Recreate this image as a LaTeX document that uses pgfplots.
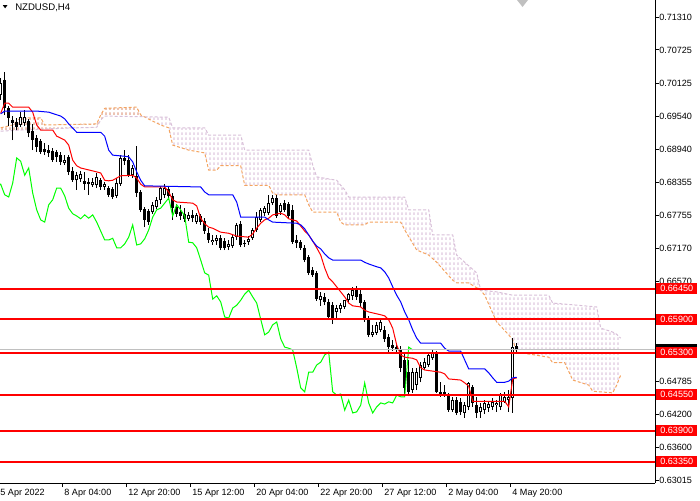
\documentclass[border=0pt]{standalone}
\usepackage{fontspec}
\setmainfont{Liberation Sans}
\usepackage{pgfplots}
\usepackage{pgfplotstable}
\pgfplotsset{compat=1.18}
\usepgfplotslibrary{fillbetween}
\usetikzlibrary{patterns}
\definecolor{sandy}{HTML}{F4A460}
\definecolor{thist}{HTML}{D8BFD8}
\definecolor{hatchthist}{HTML}{C49AC4}
\definecolor{hatchsandy}{HTML}{F09A50}
\definecolor{mtgreen}{HTML}{00FF00}
\definecolor{mtred}{HTML}{FF0000}
\definecolor{mtblue}{HTML}{0000FF}
\definecolor{bidgrey}{HTML}{C0C0C0}
\newcommand\lab{\fontsize{6.8pt}{8pt}\selectfont}
\pgfdeclarepatternformonly{vdash}{\pgfqpoint{0pt}{0pt}}{\pgfqpoint{3pt}{3.75pt}}{\pgfqpoint{3pt}{3.75pt}}{\pgfsetlinewidth{0.75pt}\pgfpathmoveto{\pgfqpoint{1.875pt}{0pt}}\pgfpathlineto{\pgfqpoint{1.875pt}{2.25pt}}\pgfusepath{stroke}}

\pgfplotstableread{
k O H L C
0 0.6992 0.7022 0.6983 0.7013
1 0.7019 0.7033 0.6956 0.6968
2 0.6968 0.6972 0.6936 0.6951
3 0.6947 0.6954 0.6911 0.6942
4 0.6943 0.6951 0.6929 0.6934
5 0.6938 0.6961 0.6934 0.6952
6 0.6942 0.6965 0.6936 0.6952
7 0.6945 0.6949 0.6916 0.6924
8 0.6927 0.6940 0.6893 0.6911
9 0.6915 0.6920 0.6890 0.6899
10 0.6909 0.6913 0.6886 0.6890
11 0.6895 0.6906 0.6884 0.6890
12 0.6893 0.6902 0.6881 0.6888
13 0.6891 0.6897 0.6872 0.6875
14 0.6890 0.6893 0.6872 0.6881
15 0.6884 0.6890 0.6866 0.6872
16 0.6870 0.6884 0.6866 0.6875
17 0.6881 0.6884 0.6848 0.6854
18 0.6856 0.6863 0.6836 0.6839
19 0.6839 0.6854 0.6822 0.6848
20 0.6841 0.6856 0.6836 0.6850
21 0.6838 0.6854 0.6822 0.6832
22 0.6836 0.6843 0.6813 0.6832
23 0.6830 0.6843 0.6827 0.6836
24 0.6830 0.6852 0.6825 0.6845
25 0.6839 0.6843 0.6822 0.6827
26 0.6827 0.6836 0.6822 0.6832
27 0.6825 0.6829 0.6809 0.6813
28 0.6823 0.6827 0.6805 0.6809
29 0.6811 0.6843 0.6807 0.6834
30 0.6832 0.6884 0.6829 0.6879
31 0.6879 0.6893 0.6866 0.6873
32 0.6875 0.6884 0.6845 0.6848
33 0.6848 0.6866 0.6843 0.6861
34 0.6847 0.6900 0.6809 0.6816
35 0.6818 0.6822 0.6782 0.6786
36 0.6787 0.6791 0.6755 0.6768
37 0.6784 0.6787 0.6759 0.6764
38 0.6782 0.6800 0.6779 0.6795
39 0.6791 0.6809 0.6787 0.6804
40 0.6804 0.6829 0.6796 0.6825
41 0.6813 0.6832 0.6807 0.6825
42 0.6823 0.6829 0.6804 0.6811
43 0.6811 0.6816 0.6768 0.6789
44 0.6791 0.6796 0.6773 0.6779
45 0.6782 0.6795 0.6768 0.6775
46 0.6779 0.6789 0.6764 0.6770
47 0.6770 0.6782 0.6766 0.6777
48 0.6777 0.6786 0.6764 0.6771
49 0.6764 0.6780 0.6761 0.6777
50 0.6775 0.6779 0.6759 0.6764
51 0.6766 0.6771 0.6743 0.6748
52 0.6744 0.6753 0.6727 0.6732
53 0.6728 0.6741 0.6723 0.6732
54 0.6730 0.6741 0.6723 0.6735
55 0.6735 0.6741 0.6714 0.6718
56 0.6730 0.6735 0.6714 0.6718
57 0.6719 0.6732 0.6714 0.6725
58 0.6721 0.6741 0.6718 0.6737
59 0.6737 0.6762 0.6732 0.6759
60 0.6761 0.6766 0.6719 0.6723
61 0.6727 0.6732 0.6719 0.6725
62 0.6728 0.6739 0.6723 0.6734
63 0.6735 0.6753 0.6732 0.6750
64 0.6750 0.6782 0.6746 0.6773
65 0.6768 0.6789 0.6764 0.6786
66 0.6780 0.6793 0.6775 0.6789
67 0.6780 0.6813 0.6777 0.6798
68 0.6798 0.6813 0.6795 0.6807
69 0.6807 0.6813 0.6771 0.6775
70 0.6782 0.6798 0.6777 0.6795
71 0.6798 0.6804 0.6782 0.6786
72 0.6796 0.6800 0.6771 0.6775
73 0.6786 0.6795 0.6725 0.6728
74 0.6732 0.6741 0.6718 0.6727
75 0.6728 0.6732 0.6714 0.6718
76 0.6718 0.6723 0.6692 0.6696
77 0.6701 0.6705 0.6669 0.6673
78 0.6678 0.6684 0.6666 0.6669
79 0.6673 0.6676 0.6623 0.6626
80 0.6624 0.6639 0.6614 0.6632
81 0.6630 0.6637 0.6615 0.6621
82 0.6621 0.6626 0.6589 0.6594
83 0.6615 0.6621 0.6581 0.6592
84 0.6603 0.6615 0.6592 0.6610
85 0.6608 0.6619 0.6601 0.6615
86 0.6612 0.6624 0.6608 0.6624
87 0.6624 0.6637 0.6621 0.6635
88 0.6632 0.6648 0.6624 0.6642
89 0.6642 0.6649 0.6624 0.6630
90 0.6635 0.6644 0.6612 0.6619
91 0.6621 0.6624 0.6585 0.6590
92 0.6589 0.6596 0.6558 0.6562
93 0.6562 0.6580 0.6558 0.6567
94 0.6565 0.6585 0.6562 0.6580
95 0.6571 0.6592 0.6567 0.6585
96 0.6571 0.6578 0.6549 0.6555
97 0.6558 0.6563 0.6529 0.6540
98 0.6544 0.6553 0.6533 0.6538
99 0.6540 0.6547 0.6529 0.6535
100 0.6535 0.6542 0.6495 0.6503
101 0.6517 0.6529 0.6454 0.6467
102 0.6495 0.6517 0.6452 0.6460
103 0.6463 0.6503 0.6458 0.6495
104 0.6472 0.6503 0.6463 0.6495
105 0.6485 0.6513 0.6477 0.6508
106 0.6503 0.6520 0.6499 0.6513
107 0.6508 0.6531 0.6504 0.6526
108 0.6520 0.6537 0.6517 0.6531
109 0.6529 0.6533 0.6458 0.6460
110 0.6460 0.6477 0.6451 0.6454
111 0.6460 0.6472 0.6451 0.6456
112 0.6454 0.6458 0.6424 0.6427
113 0.6427 0.6451 0.6424 0.6445
114 0.6445 0.6451 0.6418 0.6422
115 0.6442 0.6449 0.6418 0.6424
116 0.6422 0.6442 0.6413 0.6436
117 0.6433 0.6477 0.6427 0.6476
118 0.6468 0.6472 0.6433 0.6440
119 0.6436 0.6451 0.6413 0.6422
120 0.6424 0.6440 0.6413 0.6433
121 0.6427 0.6445 0.6420 0.6440
122 0.6431 0.6442 0.6424 0.6438
123 0.6433 0.6449 0.6427 0.6442
124 0.6436 0.6445 0.6424 0.6440
125 0.6433 0.6458 0.6427 0.6454
126 0.6442 0.6460 0.6440 0.6451
127 0.6445 0.6463 0.6424 0.6451
128 0.6449 0.6556 0.6422 0.6540
129 0.6542 0.6547 0.6529 0.6535
}\candles

\begin{document}
\begin{tikzpicture}
\begin{axis}[
  at={(-0.975pt,0pt)}, anchor=north west,
  scale only axis, width=492.225pt, height=362.25pt,
  xmin=-0.5, xmax=163.575, ymin=0.62965, ymax=0.7162,
  axis x line*=bottom, axis y line*=right,
  axis line style={black, line width=0.75pt},
  tick align=outside, major tick length=3pt,
  tick style={black, line width=0.75pt},
  xtick={-0.5,15.5,31.5,47.5,63.5,79.5,95.5,111.5,127.5},
  xticklabels={5 Apr 2022,8 Apr 04:00,12 Apr 20:00,15 Apr 12:00,20 Apr 04:00,22 Apr 20:00,27 Apr 12:00,2 May 04:00,4 May 20:00},
  ytick={0.71310,0.70725,0.70125,0.69540,0.68940,0.68355,0.67755,0.67170,0.66570,0.65985,0.65400,0.64785,0.64200,0.63600,0.63015},
  yticklabels={0.71310,0.70725,0.70125,0.69540,0.68940,0.68355,0.67755,0.67170,0.66570,,,0.64785,0.64200,0.63600,0.63015},
  scaled y ticks=false,
  tick label style={font=\lab, inner sep=0pt},
  xticklabel style={anchor=north west, xshift=1.1pt, yshift=-1.5pt},
  yticklabel style={anchor=west},
]
% Ichimoku cloud
\addplot[sandy, line width=0.75pt, dash pattern=on 2.25pt off 1.5pt, name path=spanA] coordinates {
(0,0.6933) (3,0.6938) (5,0.6951) (10,0.6951) (11,0.6938) (24,0.6940) (25,0.6956) (26,0.6968) (34,0.6970) (35,0.6956) (38,0.6945) (40,0.6938) (42,0.6933) (43,0.6902) (47,0.6893) (51,0.6888) (52,0.6857) (54,0.6857) (55,0.6865) (60,0.6865) (61,0.6830) (67,0.6830) (68,0.6816) (69,0.6813) (76,0.6813) (77,0.6795) (78,0.6782) (84,0.6782) (85,0.6764) (86,0.6759) (91,0.6759) (92,0.6764) (100,0.6764) (101,0.6750) (104,0.6714) (107,0.6705) (109,0.6692) (113,0.6660) (114,0.6655) (117,0.6655) (120,0.6642) (121,0.6633) (124,0.6585) (127,0.6562) (128,0.6553) (129,0.6531) (137,0.6522) (138,0.6512) (141,0.6512) (143,0.6481) (147,0.6472) (148,0.6461) (153,0.6458) (154,0.6472) (155,0.6490)};
\addplot[thist, line width=0.75pt, dash pattern=on 2.25pt off 1.5pt, name path=spanB] coordinates {
(0,0.6927) (5,0.6929) (11,0.6931) (24,0.6934) (25,0.6947) (26,0.6954) (42,0.6952) (43,0.6933) (51,0.6933) (52,0.6920) (60,0.6920) (61,0.6893) (77,0.6893) (78,0.6866) (79,0.6845) (84,0.6839) (85,0.6830) (86,0.6822) (87,0.6809) (101,0.6809) (102,0.6786) (107,0.6786) (108,0.6741) (113,0.6741) (114,0.6705) (116,0.6692) (119,0.6673) (120,0.6642) (124,0.6639) (128,0.6633) (137,0.6633) (138,0.6619) (149,0.6612) (150,0.6574) (153,0.6567) (154,0.6563) (155,0.6556)};
\addplot[pattern=vdash, pattern color=hatchthist] fill between[of=spanA and spanB];
\addplot[pattern=vdash, pattern color=hatchsandy] fill between[of=spanA and spanB, soft clip={domain=0:35}];
% candles
\addplot[black, line width=0.75pt, -, quiver={u=0, v=\thisrow{H}-\thisrow{L}}] table[x=k, y=L] {\candles};
\addplot[black, line width=2.25pt, -, quiver={u=0, v=\thisrow{C}-\thisrow{O}}] table[x=k, y=O] {\candles};
\addplot[white, line width=0.75pt, -, quiver={u=0, v=\thisrow{C}-\thisrow{O}, every arrow/.append style={shorten >=0.75pt, shorten <=0.75pt}}, restrict expr to domain={\thisrow{C}-\thisrow{O}}{0.00005:1}] table[x=k, y=O] {\candles};
% chikou span
\addplot[mtgreen, line width=0.75pt] table[x expr=\thisrow{k}-26, y=C] {\candles};
% tenkan
\addplot[mtred, line width=0.75pt] coordinates {
(0,0.6959) (1,0.6977) (2,0.6977) (3,0.6970) (7,0.6970) (8,0.6961) (9,0.6938) (10,0.6929) (13,0.6929) (14,0.6918) (16,0.6911) (17,0.6902) (18,0.6875) (19,0.6865) (20,0.6861) (24,0.6854) (25,0.6852) (26,0.6839) (27,0.6838) (28,0.6839) (29,0.6843) (30,0.6847) (33,0.6848) (34,0.6843) (35,0.6832) (36,0.6827) (41,0.6827) (42,0.6818) (43,0.6804) (44,0.6800) (48,0.6798) (49,0.6793) (50,0.6771) (51,0.6761) (52,0.6755) (53,0.6753) (55,0.6746) (57,0.6744) (59,0.6739) (62,0.6737) (63,0.6743) (64,0.6753) (65,0.6762) (66,0.6768) (67,0.6771) (68,0.6777) (70,0.6780) (71,0.6777) (72,0.6770) (74,0.6766) (75,0.6757) (76,0.6748) (77,0.6741) (78,0.6730) (79,0.6718) (80,0.6705) (81,0.6682) (82,0.6664) (83,0.6657) (84,0.6648) (85,0.6639) (86,0.6630) (87,0.6619) (88,0.6614) (90,0.6612) (91,0.6606) (92,0.6603) (95,0.6598) (96,0.6596) (97,0.6589) (98,0.6574) (99,0.6544) (100,0.6526) (101,0.6522) (103,0.6520) (104,0.6517) (105,0.6503) (106,0.6499) (110,0.6495) (111,0.6492) (112,0.6483) (115,0.6481) (116,0.6476) (117,0.6470) (118,0.6443) (126,0.6443) (127,0.6433) (128,0.6483) (129,0.6485)};
% kijun
\addplot[mtblue, line width=0.75pt] coordinates {
(0,0.6958) (1,0.6963) (9,0.6963) (12,0.6961) (15,0.6954) (16,0.6949) (17,0.6940) (19,0.6925) (25,0.6925) (26,0.6918) (27,0.6893) (28,0.6884) (31,0.6882) (32,0.6881) (33,0.6872) (34,0.6854) (35,0.6839) (36,0.6829) (50,0.6827) (51,0.6818) (52,0.6813) (58,0.6813) (59,0.6800) (60,0.6773) (66,0.6773) (67,0.6768) (68,0.6764) (74,0.6762) (75,0.6759) (76,0.6752) (77,0.6741) (78,0.6730) (79,0.6721) (80,0.6716) (81,0.6707) (82,0.6700) (83,0.6696) (90,0.6696) (91,0.6692) (92,0.6689) (94,0.6684) (95,0.6682) (96,0.6675) (97,0.6664) (98,0.6648) (99,0.6633) (100,0.6621) (101,0.6603) (102,0.6589) (103,0.6571) (104,0.6556) (105,0.6547) (110,0.6547) (111,0.6538) (112,0.6533) (115,0.6533) (116,0.6517) (117,0.6501) (121,0.6501) (122,0.6494) (123,0.6485) (124,0.6477) (126,0.6477) (127,0.6479) (128,0.6485) (129,0.6486)};
% bid line and levels
\addplot[bidgrey, line width=0.75pt] coordinates {(-1,0.6535) (170,0.6535)};
\addplot[mtred, line width=1.5pt] coordinates {(-1,0.6645) (170,0.6645)};
\addplot[mtred, line width=1.5pt] coordinates {(-1,0.6590) (170,0.6590)};
\addplot[mtred, line width=1.5pt] coordinates {(-1,0.6530) (170,0.6530)};
\addplot[mtred, line width=1.5pt] coordinates {(-1,0.6455) (170,0.6455)};
\addplot[mtred, line width=1.5pt] coordinates {(-1,0.6390) (170,0.6390)};
\addplot[mtred, line width=1.5pt] coordinates {(-1,0.6335) (170,0.6335)};
\coordinate (lb) at (axis cs:163.575,0.6535);
\coordinate (l1) at (axis cs:163.575,0.6645);
\coordinate (l2) at (axis cs:163.575,0.6590);
\coordinate (l3) at (axis cs:163.575,0.6530);
\coordinate (l4) at (axis cs:163.575,0.6455);
\coordinate (l5) at (axis cs:163.575,0.6390);
\coordinate (l6) at (axis cs:163.575,0.6335);
\end{axis}
\tikzset{lbox/.style={anchor=west, inner sep=0pt, minimum width=30.75pt, minimum height=8.5pt, font=\lab, text=white}}
\node[lbox, fill=black] at ([xshift=0.75pt]lb) {};
\node[lbox, fill=mtred] at ([xshift=0.75pt]l1) {0.66450};
\node[lbox, fill=mtred] at ([xshift=0.75pt]l2) {0.65900};
\node[lbox, fill=mtred] at ([xshift=0.75pt]l3) {0.65300};
\node[lbox, fill=mtred] at ([xshift=0.75pt]l4) {0.64550};
\node[lbox, fill=mtred] at ([xshift=0.75pt]l5) {0.63900};
\node[lbox, fill=mtred] at ([xshift=0.75pt]l6) {0.63350};
% title
\fill[black] (2.1pt,-3.9pt) -- (5.6pt,-3.9pt) -- (3.85pt,-6.2pt) -- cycle;
\node[anchor=west, inner sep=0pt, font=\fontsize{7.2pt}{8pt}\selectfont] at (11.25pt,-5.6pt) {NZDUSD,H4};
\fill[bidgrey] (387.75pt,0pt) -- (396pt,0pt) -- (391.9pt,-5.25pt) -- cycle;
\pgfresetboundingbox
\path[use as bounding box] (0,0) rectangle (525pt,-375pt);
\end{tikzpicture}
\end{document}
